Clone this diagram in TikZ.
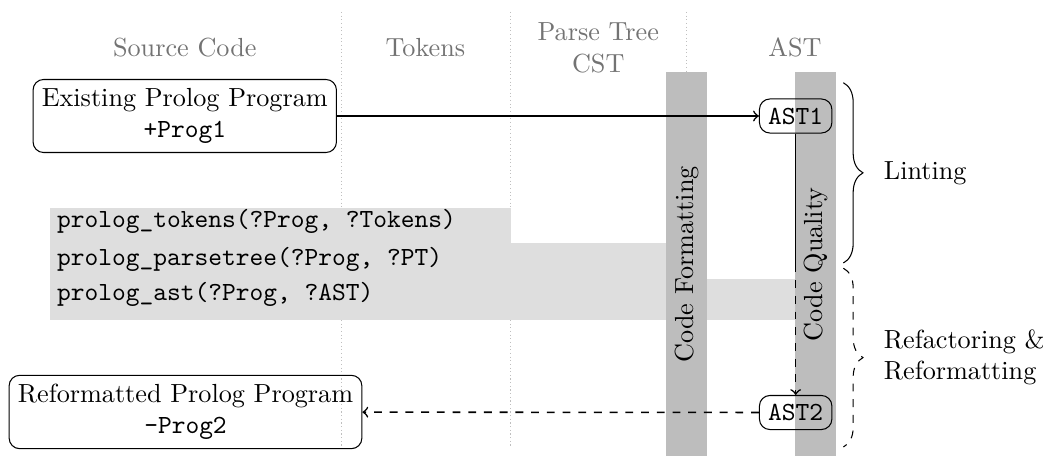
\documentclass[tikz,border=0pt]{standalone}
\usepackage{amsmath}
\usepackage{tikz}
\usetikzlibrary{positioning, arrows, calc, decorations.pathreplacing}
\usepackage{xcolor}
\definecolor{head-gray}{gray}{0.45}
\definecolor{bar-gray}{gray}{0.74}
\definecolor{band-gray}{gray}{0.87}

\begin{document}
\begin{tikzpicture}[
		prog/.style={draw, rounded corners=4pt, align=center},
		ast/.style={draw, rounded corners=4pt, font=\ttfamily},
		head/.style={text=head-gray, align=center},
		bar/.style={fill=bar-gray, rotate=90, minimum width=5.15cm, minimum height=0.55cm, inner sep=0pt},
		band/.style={fill=band-gray},
		pred/.style={anchor=base west, inner sep=0pt, font=\ttfamily},
		sep/.style={gray!50, densely dotted},
		flow/.style={semithick}
	]
	\useasboundingbox (0,0) rectangle (14.0,-6.121);

	\draw[sep] (4.58,-0.16) -- (4.58,-6.01);
	\draw[sep] (6.85,-0.16) -- (6.85,-6.01);
	\draw[sep] (9.22,-0.16) -- (9.22,-6.01);

	\node[head] at (2.48,-0.643) (srchead) {Source Code};
	\node[head] at (5.71,-0.643) (tokhead) {Tokens};
	\node[head] at (8.03,-0.643) (pthead) {Parse Tree\\CST};
	\node[head] at (10.67,-0.643) (asthead) {AST};

	\fill[band] (0.67,-2.79) rectangle (6.86,-3.26);
	\fill[band] (0.67,-3.26) rectangle (8.95,-3.74);
	\fill[band] (0.67,-3.74) rectangle (10.67,-4.30);

	\node[pred] at (0.76,-3.06) (tokens) {prolog\_tokens(?Prog, ?Tokens)};
	\node[pred] at (0.76,-3.557) (parsetree) {prolog\_parsetree(?Prog, ?PT)};
	\node[pred] at (0.76,-4.04) (astpred) {prolog\_ast(?Prog, ?AST)};

	\node[bar] at (9.22,-3.547) (fmt) {Code Formatting};
	\node[bar] at (10.95,-3.547) (quality) {Code Quality};

	\node[prog] at (2.48,-1.557) (existing) {Existing Prolog Program\\\texttt{+Prog1}};
	\node[prog] at (2.49,-5.53) (reform) {Reformatted Prolog Program\\\texttt{-Prog2}};
	\node[ast] at (10.68,-1.557) (ast1) {AST1};
	\node[ast] at (10.68,-5.537) (ast2) {AST2};
	\coordinate (qsplit) at (10.68,-3.55);

	\draw[flow, ->] (existing) -- (ast1);
	\draw[flow] (ast1) -- (qsplit);
	\draw[flow, dashed, ->] (qsplit) -- (ast2);
	\draw[flow, dashed, ->] (ast2) -- (reform);

	\draw[decorate, decoration={brace, amplitude=7.5pt}] (11.32,-1.11) -- node[right=0.42cm] (lint) {Linting} (11.32,-3.53);
	\draw[dashed, decorate, decoration={brace, amplitude=7.5pt}] (11.32,-3.60) -- node[right=0.42cm, align=left] (refac) {Refactoring \&\\Reformatting} (11.32,-6.0);
\end{tikzpicture}
\end{document}
